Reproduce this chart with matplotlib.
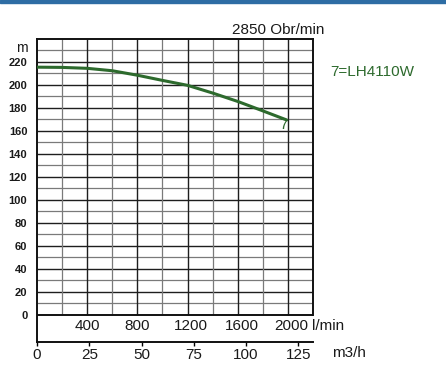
import matplotlib
matplotlib.use("Agg")
import matplotlib.pyplot as plt
from matplotlib.patches import Rectangle

plt.rcParams["font.family"] = ["Liberation Sans", "DejaVu Sans"]

# pump curve 7 = LH4110W, 2850 rpm
flow_lmin = [0, 200, 400, 600, 800, 1000, 1200, 1400, 1600, 1800, 1990]
head_m = [215.5, 215.3, 214.5, 212.4, 208.5, 204.0, 199.7, 193.0, 185.7, 177.5, 169.6]

lmin_ticks = [400, 800, 1200, 1600, 2000]
m3h_ticks = [0, 25, 50, 75, 100, 125]
head_ticks = list(range(0, 221, 20))

W, H = 446, 374
fig = plt.figure(figsize=(W / 100, H / 100), dpi=100)

# blue strip on top
fig.patches.append(Rectangle((0, 1 - 3 / H), 1, 3 / H, transform=fig.transFigure,
                             color="#2e6da4", zorder=0))

left, right, top, bottom = 37, 313, 39, 342
ax = fig.add_axes([left / W, 1 - bottom / H, (right - left) / W, (bottom - top) / H])

ymin = -23.5
ax.set_xlim(0, 2200)
ax.set_ylim(ymin, 240)

# grid
for y in range(10, 240, 10):
    if y % 20 == 0:
        ax.hlines(y, 0, 2200, color="#1e1e1e", lw=1.0, zorder=1)
    else:
        ax.hlines(y, 0, 2200, color="#7a7a7a", lw=0.9, zorder=1)
for x in range(200, 2200, 200):
    if x % 400 == 0:
        ax.vlines(x, 0, 240, color="#1e1e1e", lw=1.0, zorder=1)
    else:
        ax.vlines(x, 0, 240, color="#7a7a7a", lw=0.9, zorder=1)
ax.hlines(0, 0, 2200, color="#111111", lw=1.4, zorder=2)

for s in ["left", "top", "bottom", "right"]:
    ax.spines[s].set_linewidth(1.4)
    ax.spines[s].set_color("#111111")
ax.spines["right"].set_bounds(0, 240)

green = "#2d6a2d"
ax.plot(flow_lmin, head_m, color=green, lw=2.2, solid_capstyle="round", zorder=3)
ax.text(flow_lmin[-1] + 5, head_m[-1] + 1.5, "7", color=green, fontsize=11,
        ha="right", va="top", zorder=3)

# y axis
ax.set_yticks(head_ticks)
ax.set_yticklabels([str(v) for v in head_ticks], fontsize=8, fontweight="bold", color="#1a1a1a")
ax.tick_params(axis="y", length=0, pad=7)

# m3/h axis on the bottom spine
ax.set_xticks([v * 1000 / 60 for v in m3h_ticks])
ax.set_xticklabels([str(v) for v in m3h_ticks], fontsize=11, color="#1a1a1a")
ax.tick_params(axis="x", length=3, width=1, direction="out", pad=1.5)

# l/min row inside the lower box
for q in lmin_ticks:
    shift = 30 if q >= 1000 else 0
    ax.text(q + shift, -9.5, str(q), fontsize=11, ha="center", va="center", color="#1a1a1a")
ax.text(2190, -9.5, "l/min", fontsize=11, ha="left", va="center", color="#1a1a1a",
        clip_on=False)
ax.text(1.07, -33, "m3/h", transform=ax.get_yaxis_transform(), fontsize=11,
        ha="left", va="center", color="#1a1a1a")

ax.text(-0.055, 232.5, "m", transform=ax.get_yaxis_transform(), fontsize=10,
        ha="center", va="center", color="#1a1a1a")
fig.text(278 / W, 1 - 30 / H, "2850 Obr/min", fontsize=11,
         ha="center", va="center", color="#1a1a1a")
fig.text(330 / W, 1 - 72.5 / H, "7=LH4110W", fontsize=11, color=green,
         ha="left", va="center")

fig.savefig("out.png", dpi=100)
